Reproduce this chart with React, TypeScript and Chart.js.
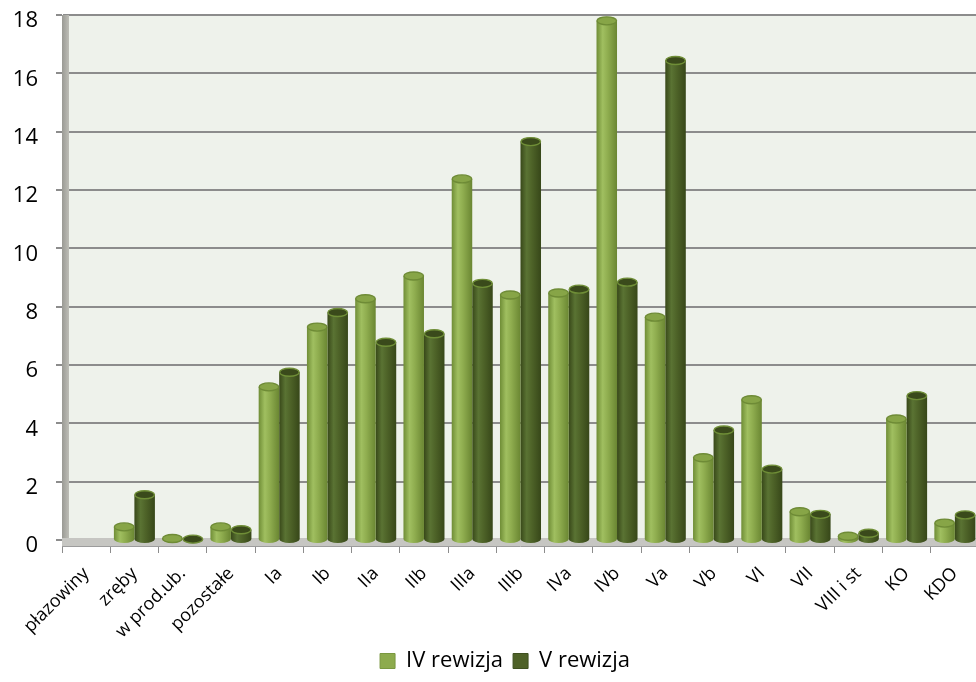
import React, { useEffect, useRef } from "react";
import { Chart, registerables } from "chart.js";

Chart.register(...registerables);

const categories = [
  "płazowiny", "zręby", "w prod.ub.", "pozostałe", "Ia", "Ib", "IIa", "IIb",
  "IIIa", "IIIb", "IVa", "IVb", "Va", "Vb", "VI", "VII", "VIII i st", "KO", "KDO",
];
const seriesNames = ["IV rewizja", "V rewizja"];
const rewizjaIV = [0, 0.45, 0.05, 0.45, 5.25, 7.3, 8.27, 9.05, 12.38, 8.4, 8.47, 17.8, 7.64, 2.82, 4.81, 0.97, 0.13, 4.15, 0.58];
const rewizjaV = [0, 1.55, 0.03, 0.35, 5.75, 7.8, 6.78, 7.07, 8.8, 13.66, 8.6, 8.84, 16.44, 3.77, 2.43, 0.88, 0.23, 4.95, 0.86];
const yMin = 0;
const yMax = 18;
const yStep = 2;

const CAT_PCT = 0.85;
const FONT = "'Open Sans', 'DejaVu Sans', sans-serif";

const gradStops = [
  [[0, "#6F8D36"], [0.3, "#A0BF60"], [0.55, "#8FAD4F"], [1, "#6A8632"]],
  [[0, "#384819"], [0.3, "#5A7333"], [0.55, "#4E6328"], [1, "#374719"]],
];
const solidColors = ["#8DAB4D", "#4F6228"];
const topFill = ["#87A547", "#3A4A1B"];
const topStroke = ["#6E8B36", "#6F8E37"];

function cylinderFill(di: number) {
  return (ctx: any) => {
    const chart = ctx.chart;
    const xs = chart.scales && chart.scales.x;
    if (!xs || !chart.chartArea || typeof ctx.dataIndex !== "number") return solidColors[di];
    const catW = (xs.right - xs.left) / categories.length;
    const bw = (catW * CAT_PCT) / 2;
    const c = xs.getPixelForValue(ctx.dataIndex);
    const x0 = di === 0 ? c - bw : c;
    const g = chart.ctx.createLinearGradient(x0, 0, x0 + bw, 0);
    gradStops[di].forEach(([o, col]: any) => g.addColorStop(o, col));
    return g;
  };
}

const wallPlugin = {
  id: "wall",
  beforeDraw(chart: any) {
    const { ctx, chartArea: a } = chart;
    ctx.save();
    ctx.fillStyle = "#EEF2EB";
    ctx.fillRect(a.left, a.top, a.right - a.left, a.bottom - a.top);
    ctx.restore();
  },
  beforeDatasetsDraw(chart: any) {
    const { ctx, chartArea: a } = chart;
    ctx.save();
    const sg = ctx.createLinearGradient(a.left, 0, a.left + 7, 0);
    sg.addColorStop(0, "#9A9A94");
    sg.addColorStop(1, "#BDBDB6");
    ctx.fillStyle = sg;
    ctx.fillRect(a.left, a.top, 7, a.bottom - a.top + 6);
    ctx.fillStyle = "#C6C6C2";
    ctx.fillRect(a.left, a.bottom - 2, a.right - a.left, 8);
    ctx.strokeStyle = "#9C9C9C";
    ctx.lineWidth = 1;
    ctx.beginPath();
    ctx.moveTo(a.left, a.bottom + 6.5);
    ctx.lineTo(a.right, a.bottom + 6.5);
    ctx.stroke();
    ctx.restore();
  },
  afterDatasetsDraw(chart: any) {
    const ctx = chart.ctx;
    chart.data.datasets.forEach((ds: any, di: number) => {
      const meta = chart.getDatasetMeta(di);
      meta.data.forEach((bar: any, i: number) => {
        if (!ds.data[i]) return;
        const { x, y, base, width } = bar.getProps(["x", "y", "base", "width"], true);
        const rx = width / 2;
        const ry = 4;
        ctx.save();
        ctx.beginPath();
        ctx.ellipse(x, base, rx, ry, 0, 0, Math.PI);
        ctx.fillStyle = bar.options.backgroundColor;
        ctx.fill();
        ctx.beginPath();
        ctx.ellipse(x, y, rx - 0.5, ry, 0, 0, Math.PI * 2);
        ctx.fillStyle = topFill[di];
        ctx.fill();
        ctx.lineWidth = 1.4;
        ctx.strokeStyle = topStroke[di];
        ctx.stroke();
        ctx.restore();
      });
    });
  },
};

export default function App() {
  const ref = useRef<HTMLCanvasElement>(null);
  useEffect(() => {
    const chart = new Chart(ref.current as HTMLCanvasElement, {
      type: "bar",
      data: {
        labels: categories,
        datasets: [
          { label: seriesNames[0], data: rewizjaIV, backgroundColor: cylinderFill(0) as any, borderWidth: 0 },
          { label: seriesNames[1], data: rewizjaV, backgroundColor: cylinderFill(1) as any, borderWidth: 0 },
        ],
      },
      options: {
        animation: false,
        responsive: false,
        devicePixelRatio: 1,
        layout: { padding: { top: 15, right: 0, left: 0, bottom: 0 } },
        datasets: { bar: { categoryPercentage: CAT_PCT, barPercentage: 1 } } as any,
        plugins: {
          tooltip: { enabled: false },
          legend: {
            position: "bottom",
            labels: {
              font: { family: FONT, size: 22 },
              color: "#000",
              boxWidth: 15,
              boxHeight: 15,
              padding: 10,
              generateLabels: () =>
                seriesNames.map((t, i) => ({
                  text: t,
                  fillStyle: solidColors[i],
                  strokeStyle: i === 0 ? "#7A9840" : "#3F5020",
                  lineWidth: 1,
                  hidden: false,
                  datasetIndex: i,
                })) as any,
            },
          },
        },
        scales: {
          x: {
            grid: { drawOnChartArea: false, drawTicks: true, tickLength: 13, color: "#8C8C8C", lineWidth: 1 },
            border: { display: false },
            ticks: {
              font: { family: FONT, size: 18 },
              color: "#000",
              minRotation: 45,
              maxRotation: 45,
              padding: 10,
              autoSkip: false,
            },
            afterFit: (s: any) => {
              s.height = 100;
              s.paddingLeft = 0;
              s.paddingRight = 0;
            },
          },
          y: {
            min: yMin,
            max: yMax,
            ticks: {
              stepSize: yStep,
              font: { family: FONT, size: 22 },
              color: "#000",
              padding: 18,
              labelOffset: 6,
            },
            grid: { color: "#8C8C8C", lineWidth: 2, tickLength: 6 },
            border: { display: true, color: "#8C8C8C", width: 1 },
            afterFit: (s: any) => {
              s.width = 62;
              s.paddingTop = 0;
              s.paddingBottom = 0;
            },
          },
          yRightSpacer: {
            type: "linear",
            position: "right",
            display: true,
            grid: { display: false, drawOnChartArea: false },
            border: { display: false },
            ticks: { display: false },
            afterFit: (s: any) => {
              s.width = 31;
              s.paddingTop = 0;
              s.paddingBottom = 0;
            },
          },
        },
      } as any,
      plugins: [wallPlugin],
    });
    return () => chart.destroy();
  }, []);
  return (
    <div style={{ position: "fixed", left: 0, top: 0, width: 976, height: 682, overflow: "hidden", background: "#fff" }}>
      <canvas ref={ref} width={1010} height={682} style={{ display: "block", width: 1010, height: 682 }} />
    </div>
  );
}
